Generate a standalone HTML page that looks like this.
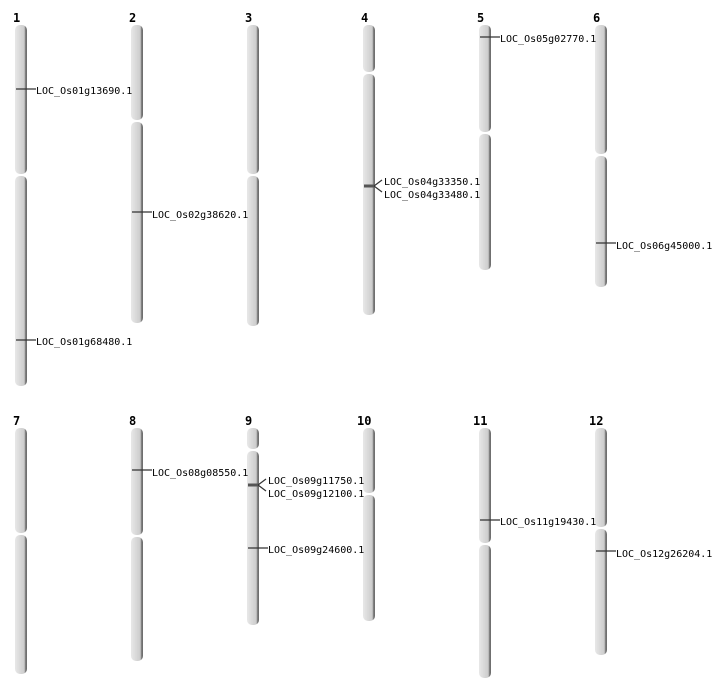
<!DOCTYPE html>
<html><head><meta charset="utf-8"><style>
html,body{margin:0;padding:0;background:#fff;width:712px;height:700px;overflow:hidden}
svg text{font-family:"DejaVu Sans Mono","Liberation Mono",monospace;font-size:10px;fill:#000}
svg text.n{font-weight:bold;font-size:12px}
</style></head><body>
<svg id="s" width="712" height="700" xmlns="http://www.w3.org/2000/svg">
<defs><linearGradient id="g" x1="0" x2="1" y1="0" y2="0">
<stop offset="0" stop-color="#e8e8e8"/><stop offset="0.5" stop-color="#d6d6d6"/><stop offset="0.78" stop-color="#cccccc"/><stop offset="0.84" stop-color="#888"/><stop offset="1" stop-color="#666"/></linearGradient></defs>
<g id="chr"></g>
<text class="n" x="13" y="22">1</text><text class="n" x="129" y="22">2</text><text class="n" x="245" y="22">3</text><text class="n" x="361" y="22">4</text><text class="n" x="477" y="22">5</text><text class="n" x="593" y="22">6</text>
<text class="n" x="13" y="425">7</text><text class="n" x="129" y="425">8</text><text class="n" x="245" y="425">9</text><text class="n" x="357" y="425">10</text><text class="n" x="473" y="425">11</text><text class="n" x="589" y="425">12</text>
<g stroke="#333" stroke-width="1.2" fill="none">
<path d="M16 89H36"/><path d="M16 340H36"/><path d="M132 212H152"/>
<path d="M364 186H374L382 180M374 186L382 192"/><path d="M480 37H500"/><path d="M596 243H616"/>
<path d="M132 470H152"/><path d="M248 485H258L266 479M258 485L266 491"/><path d="M248 548H268"/>
<path d="M480 520H500"/><path d="M596 551H616"/>
</g>
<g stroke="#555" stroke-width="3"><path d="M364 186H374"/><path d="M248 485H258"/></g>
<text x="36" y="94">LOC_Os01g13690.1</text>
<text x="36" y="345">LOC_Os01g68480.1</text>
<text x="152" y="218">LOC_Os02g38620.1</text>
<text x="384" y="185">LOC_Os04g33350.1</text>
<text x="384" y="198">LOC_Os04g33480.1</text>
<text x="500" y="42">LOC_Os05g02770.1</text>
<text x="616" y="249">LOC_Os06g45000.1</text>
<text x="152" y="476">LOC_Os08g08550.1</text>
<text x="268" y="484">LOC_Os09g11750.1</text>
<text x="268" y="497">LOC_Os09g12100.1</text>
<text x="268" y="553">LOC_Os09g24600.1</text>
<text x="500" y="525">LOC_Os11g19430.1</text>
<text x="616" y="557">LOC_Os12g26204.1</text>
</svg>
<script>
var c=[[15,25,175,386],[131,25,121,323],[247,25,175,326],[363,25,73,315],[479,25,133,270],[595,25,155,287],
[15,428,534,674],[131,428,536,661],[247,428,450,625],[363,428,494,621],[479,428,544,678],[595,428,528,655]];
var g=document.getElementById('chr'),h='';
c.forEach(function(a){
h+='<rect x="'+a[0]+'" y="'+a[1]+'" width="12" height="'+(a[2]-a[1]-1)+'" rx="5" fill="url(#g)"/>';
h+='<rect x="'+a[0]+'" y="'+(a[2]+1)+'" width="12" height="'+(a[3]-a[2]-1)+'" rx="5" fill="url(#g)"/>';
});
g.innerHTML=h;
</script>
</body></html>
